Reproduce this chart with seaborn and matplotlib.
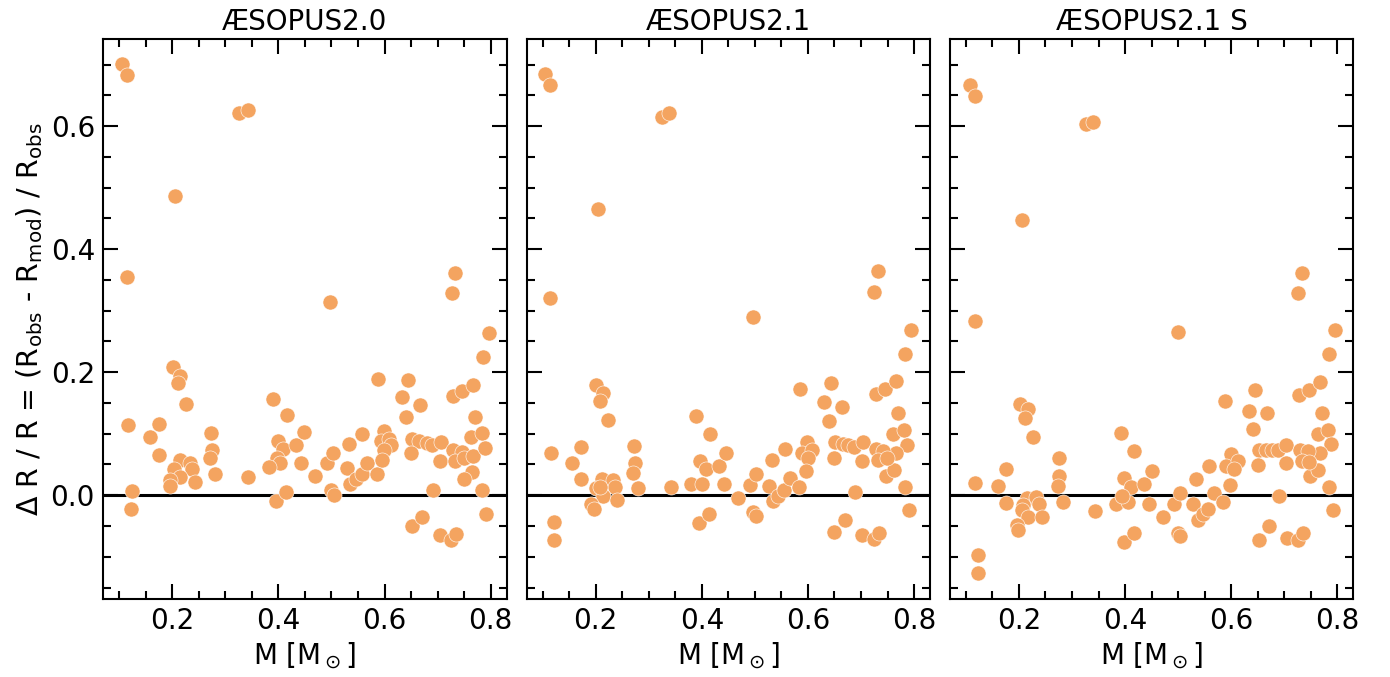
import numpy as np
import pandas as pd
import matplotlib
matplotlib.use("Agg")
import matplotlib.pyplot as plt
from matplotlib.ticker import MultipleLocator
import seaborn as sns

titles = ["ÆSOPUS2.0", "ÆSOPUS2.1", "ÆSOPUS2.1 S"]

m_a = [0.1057, 0.1151, 0.3264, 0.3421, 0.2057, 0.1145, 0.4981, 0.7321, 0.7277, 0.7962, 0.7849,
       0.2006, 0.2151, 0.2100, 0.2251, 0.1164, 0.1742, 0.1585, 0.1742, 0.2736, 0.2749, 0.2717, 0.2811,
       0.2138, 0.2025, 0.2326, 0.2372, 0.2138, 0.1962, 0.1962, 0.2421, 0.1240, 0.1226, 0.3421, 0.3900,
       0.4164, 0.3987, 0.4089, 0.4340, 0.4477, 0.3975, 0.4038, 0.3817, 0.4434, 0.3957, 0.4145,
       0.5868, 0.6447, 0.6321, 0.6660, 0.6410, 0.7289, 0.7453, 0.7674, 0.7704, 0.4698, 0.4919, 0.5032,
       0.5000, 0.5043, 0.5326, 0.5579, 0.5283, 0.5358, 0.5453, 0.5579, 0.5674, 0.5849, 0.5987, 0.5925,
       0.6081, 0.6113, 0.5987, 0.5957, 0.6509, 0.6647, 0.6792, 0.6900, 0.7057, 0.6491, 0.7038, 0.6911,
       0.7296, 0.7453, 0.7321, 0.7496, 0.7674, 0.7636, 0.7843, 0.7887, 0.7642, 0.7496, 0.7843, 0.7919,
       0.6509, 0.6711, 0.7038, 0.7258, 0.7340]
dr_a = [0.701, 0.683, 0.622, 0.627, 0.486, 0.355, 0.314, 0.362, 0.329, 0.264, 0.225,
        0.208, 0.194, 0.182, 0.149, 0.115, 0.116, 0.094, 0.065, 0.102, 0.074, 0.060, 0.034,
        0.057, 0.043, 0.052, 0.042, 0.030, 0.024, 0.015, 0.022, 0.007, -0.022, 0.030, 0.156,
        0.131, 0.088, 0.076, 0.081, 0.103, 0.060, 0.053, 0.046, 0.053, -0.010, 0.005,
        0.189, 0.188, 0.160, 0.147, 0.128, 0.162, 0.169, 0.180, 0.128, 0.031, 0.052, 0.068,
        0.008, 0.001, 0.084, 0.099, 0.045, 0.019, 0.027, 0.034, 0.053, 0.034, 0.105, 0.088,
        0.091, 0.081, 0.073, 0.058, 0.092, 0.088, 0.085, 0.081, 0.086, 0.068, 0.055, 0.008,
        0.073, 0.070, 0.055, 0.060, 0.064, 0.094, 0.101, 0.077, 0.037, 0.027, 0.008, -0.031,
        -0.050, -0.036, -0.065, -0.072, -0.063]

m_b = [0.1038, 0.1145, 0.3245, 0.3377, 0.2043, 0.1132, 0.4968, 0.7315, 0.7251, 0.7943, 0.7836,
       0.2000, 0.2138, 0.2089, 0.2232, 0.1150, 0.1730, 0.1560, 0.1730, 0.2723, 0.2736, 0.2704, 0.2798,
       0.2119, 0.2000, 0.2326, 0.2358, 0.2138, 0.2075, 0.1919, 0.1962, 0.2402, 0.1213, 0.1213, 0.3415,
       0.3900, 0.4150, 0.3975, 0.4075, 0.4326, 0.4466, 0.3792, 0.4013, 0.4415, 0.3950, 0.4132,
       0.5849, 0.6434, 0.6308, 0.6647, 0.6396, 0.7283, 0.7459, 0.7660, 0.7704, 0.7610, 0.7817, 0.7874,
       0.7660, 0.4685, 0.4906, 0.5019, 0.4957, 0.5030, 0.5315, 0.5566, 0.5270, 0.5345, 0.5440, 0.5547,
       0.5660, 0.5836, 0.5975, 0.5880, 0.6070, 0.6006, 0.5957, 0.6509, 0.6654, 0.6760, 0.6868, 0.7032,
       0.6490, 0.7025, 0.6887, 0.7277, 0.7420, 0.7315, 0.7472, 0.7623, 0.7836, 0.7900, 0.6496, 0.6698,
       0.7025, 0.7245, 0.7345, 0.7485]
dr_b = [0.685, 0.667, 0.615, 0.621, 0.466, 0.321, 0.289, 0.364, 0.330, 0.268, 0.229,
        0.179, 0.167, 0.153, 0.122, 0.069, 0.079, 0.053, 0.026, 0.080, 0.052, 0.036, 0.011,
        0.026, 0.011, 0.024, 0.014, -0.002, 0.014, -0.014, -0.022, -0.008, -0.043, -0.073, 0.013,
        0.129, 0.099, 0.056, 0.043, 0.047, 0.068, 0.018, 0.019, 0.018, -0.045, -0.031,
        0.172, 0.182, 0.151, 0.144, 0.120, 0.164, 0.172, 0.185, 0.133, 0.099, 0.106, 0.082,
        0.068, -0.004, 0.016, 0.034, -0.027, -0.034, 0.057, 0.075, 0.015, -0.009, -0.002, 0.008,
        0.028, 0.013, 0.087, 0.069, 0.073, 0.061, 0.040, 0.086, 0.083, 0.081, 0.079, 0.086,
        0.061, 0.056, 0.005, 0.075, 0.072, 0.057, 0.031, 0.041, 0.013, -0.024, -0.059, -0.041,
        -0.065, -0.071, -0.061, 0.060]

m_c = [0.1072, 0.1171, 0.3262, 0.3400, 0.2062, 0.1166, 0.4989, 0.7324, 0.7267, 0.7957, 0.7844,
       0.2019, 0.2164, 0.2113, 0.2258, 0.1171, 0.1755, 0.1599, 0.1755, 0.2747, 0.2759, 0.2740, 0.2823,
       0.2151, 0.2070, 0.2320, 0.2382, 0.2056, 0.2164, 0.2427, 0.1962, 0.1987, 0.1234, 0.1234, 0.3437,
       0.3920, 0.4171, 0.3983, 0.4109, 0.4348, 0.4499, 0.3827, 0.4047, 0.4443, 0.3972, 0.4160, 0.3940,
       0.5874, 0.6450, 0.6326, 0.6665, 0.6413, 0.7279, 0.7456, 0.7674, 0.7719, 0.7636, 0.7832, 0.7881,
       0.7669, 0.4706, 0.4925, 0.5038, 0.4989, 0.5038, 0.5333, 0.5584, 0.5283, 0.5365, 0.5460, 0.5565,
       0.5678, 0.5848, 0.5992, 0.5898, 0.6118, 0.6055, 0.5980, 0.6526, 0.6652, 0.6765, 0.6883, 0.7041,
       0.6507, 0.7041, 0.6902, 0.7292, 0.7448, 0.7324, 0.7486, 0.7636, 0.7844, 0.7919, 0.6514, 0.6714,
       0.7047, 0.7260, 0.7354, 0.7467]
dr_c = [0.667, 0.649, 0.603, 0.607, 0.448, 0.283, 0.266, 0.362, 0.329, 0.268, 0.229,
        0.149, 0.140, 0.126, 0.095, 0.020, 0.043, 0.015, -0.013, 0.060, 0.031, 0.015, -0.011,
        -0.005, -0.016, -0.003, -0.014, -0.024, -0.036, -0.035, -0.049, -0.057, -0.097, -0.127, -0.026,
        0.101, 0.072, 0.028, 0.014, 0.018, 0.039, -0.015, -0.011, -0.014, -0.076, -0.062, -0.002,
        0.153, 0.171, 0.137, 0.134, 0.107, 0.163, 0.171, 0.184, 0.133, 0.099, 0.106, 0.083,
        0.068, -0.036, -0.015, 0.004, -0.062, -0.066, 0.027, 0.048, -0.015, -0.041, -0.031, -0.022,
        0.004, -0.011, 0.067, 0.048, 0.055, 0.042, 0.017, 0.074, 0.073, 0.074, 0.073, 0.082,
        0.049, 0.052, -0.001, 0.074, 0.072, 0.055, 0.031, 0.041, 0.013, -0.024, -0.072, -0.050,
        -0.069, -0.073, -0.062, 0.054]

masses = [m_a, m_b, m_c]
deltas = [dr_a, dr_b, dr_c]

plt.rcParams['font.family'] = ['DejaVu Sans']
plt.rcParams['mathtext.fontset'] = 'dejavusans'

fig, axes = plt.subplots(1, 3, figsize=(13.9, 6.77), dpi=100, sharey=True)
fig.subplots_adjust(left=0.0743, right=0.9736, top=0.9427, bottom=0.1158, wspace=0.0496)

color = '#F4A460'
for ax, title, m, d in zip(axes, titles, masses, deltas):
    df = pd.DataFrame({'M': m, 'dR': d})
    sns.scatterplot(data=df, x='M', y='dR', ax=ax, color=color, s=118,
                    edgecolor='white', linewidth=0.4, zorder=3)
    ax.axhline(0, color='black', lw=2.2, zorder=2)
    ax.set_xlim(0.070, 0.830)
    ax.set_ylim(-0.168, 0.742)
    ax.xaxis.set_major_locator(MultipleLocator(0.2))
    ax.xaxis.set_minor_locator(MultipleLocator(0.05))
    ax.yaxis.set_major_locator(MultipleLocator(0.2))
    ax.yaxis.set_minor_locator(MultipleLocator(0.05))
    ax.tick_params(which='both', direction='in', top=True, right=True, labelsize=20)
    ax.tick_params(which='major', length=10.5, width=1.5, pad=6)
    ax.tick_params(which='minor', length=5.5, width=1.5)
    for sp in ax.spines.values():
        sp.set_linewidth(1.5)
    ax.set_title(title, fontsize=20, pad=6)
    ax.set_xlabel(r'M [M$_\odot$]', fontsize=20)
    ax.set_ylabel('')

axes[0].set_ylabel(r'$\Delta$ R / R = (R$_{\rm obs}$ - R$_{\rm mod}$) / R$_{\rm obs}$', fontsize=20.5)

fig.savefig('out.png', dpi=100)
